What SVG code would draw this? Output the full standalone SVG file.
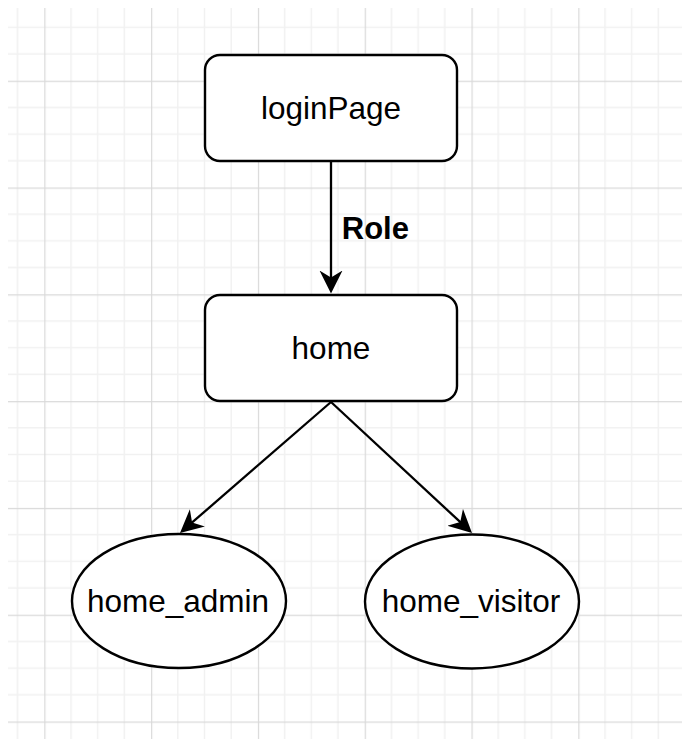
<svg xmlns="http://www.w3.org/2000/svg" width="682" height="739" viewBox="0 0 682 739">
  <style>
    .node { fill: #ffffff; stroke: #000000; stroke-width: 2.4; }
    .label { font-family: "Liberation Sans", Arial, Helvetica, sans-serif; font-size: 31.5px; fill: #000000; text-anchor: middle; }
    .edge { stroke: #000000; stroke-width: 2.3; fill: none; }
    .bold { font-weight: bold; font-size: 31px; }
    .minor { stroke: #f1f1f1; stroke-width: 1.5; }
    .major { stroke: #d9d9d9; stroke-width: 1.2; }
  </style>
  <defs>
    <!-- canvas grid: 4 minor cells per major cell -->
    <pattern id="grid" patternUnits="userSpaceOnUse" x="44.3" y="80.7" width="106.8" height="106.8">
      <line class="minor" x1="26.7" y1="0" x2="26.7" y2="106.8"/>
      <line class="minor" x1="53.4" y1="0" x2="53.4" y2="106.8"/>
      <line class="minor" x1="80.1" y1="0" x2="80.1" y2="106.8"/>
      <line class="minor" x1="0" y1="26.7" x2="106.8" y2="26.7"/>
      <line class="minor" x1="0" y1="53.4" x2="106.8" y2="53.4"/>
      <line class="minor" x1="0" y1="80.1" x2="106.8" y2="80.1"/>
      <line class="major" x1="0.6" y1="0" x2="0.6" y2="106.8"/>
      <line class="major" x1="0" y1="0.6" x2="106.8" y2="0.6"/>
    </pattern>
    <marker id="arrow" markerUnits="userSpaceOnUse" viewBox="0 0 24 24" markerWidth="24" markerHeight="24" refX="13" refY="12" orient="auto">
      <path d="M23,12 L0,0.5 L7,12 L0,23.5 Z" fill="#000000"/>
    </marker>
  </defs>

  <rect x="0" y="0" width="682" height="739" fill="#ffffff"/>
  <rect x="8" y="8" width="674" height="731" fill="url(#grid)"/>

  <g id="edges">
    <line class="edge" x1="331" y1="161" x2="331" y2="283.5" marker-end="url(#arrow)"/>
    <text class="label bold" x="375.4" y="239">Role</text>
    <line class="edge" x1="331" y1="402" x2="187.55" y2="526.45" marker-end="url(#arrow)"/>
    <line class="edge" x1="331" y1="402" x2="464.67" y2="526.19" marker-end="url(#arrow)"/>
  </g>

  <g id="loginPage">
    <rect class="node" x="205" y="55" width="252" height="106" rx="15" ry="15"/>
    <text class="label" x="331" y="119">loginPage</text>
  </g>

  <g id="home">
    <rect class="node" x="205" y="295" width="252" height="106" rx="15" ry="15"/>
    <text class="label" x="331" y="359">home</text>
  </g>

  <g id="home_admin">
    <ellipse class="node" cx="179" cy="601" rx="107" ry="67"/>
    <text class="label" x="178" y="612">home_admin</text>
  </g>

  <g id="home_visitor">
    <ellipse class="node" cx="472" cy="601.5" rx="107" ry="67"/>
    <text class="label" x="471" y="612">home_visitor</text>
  </g>
</svg>
